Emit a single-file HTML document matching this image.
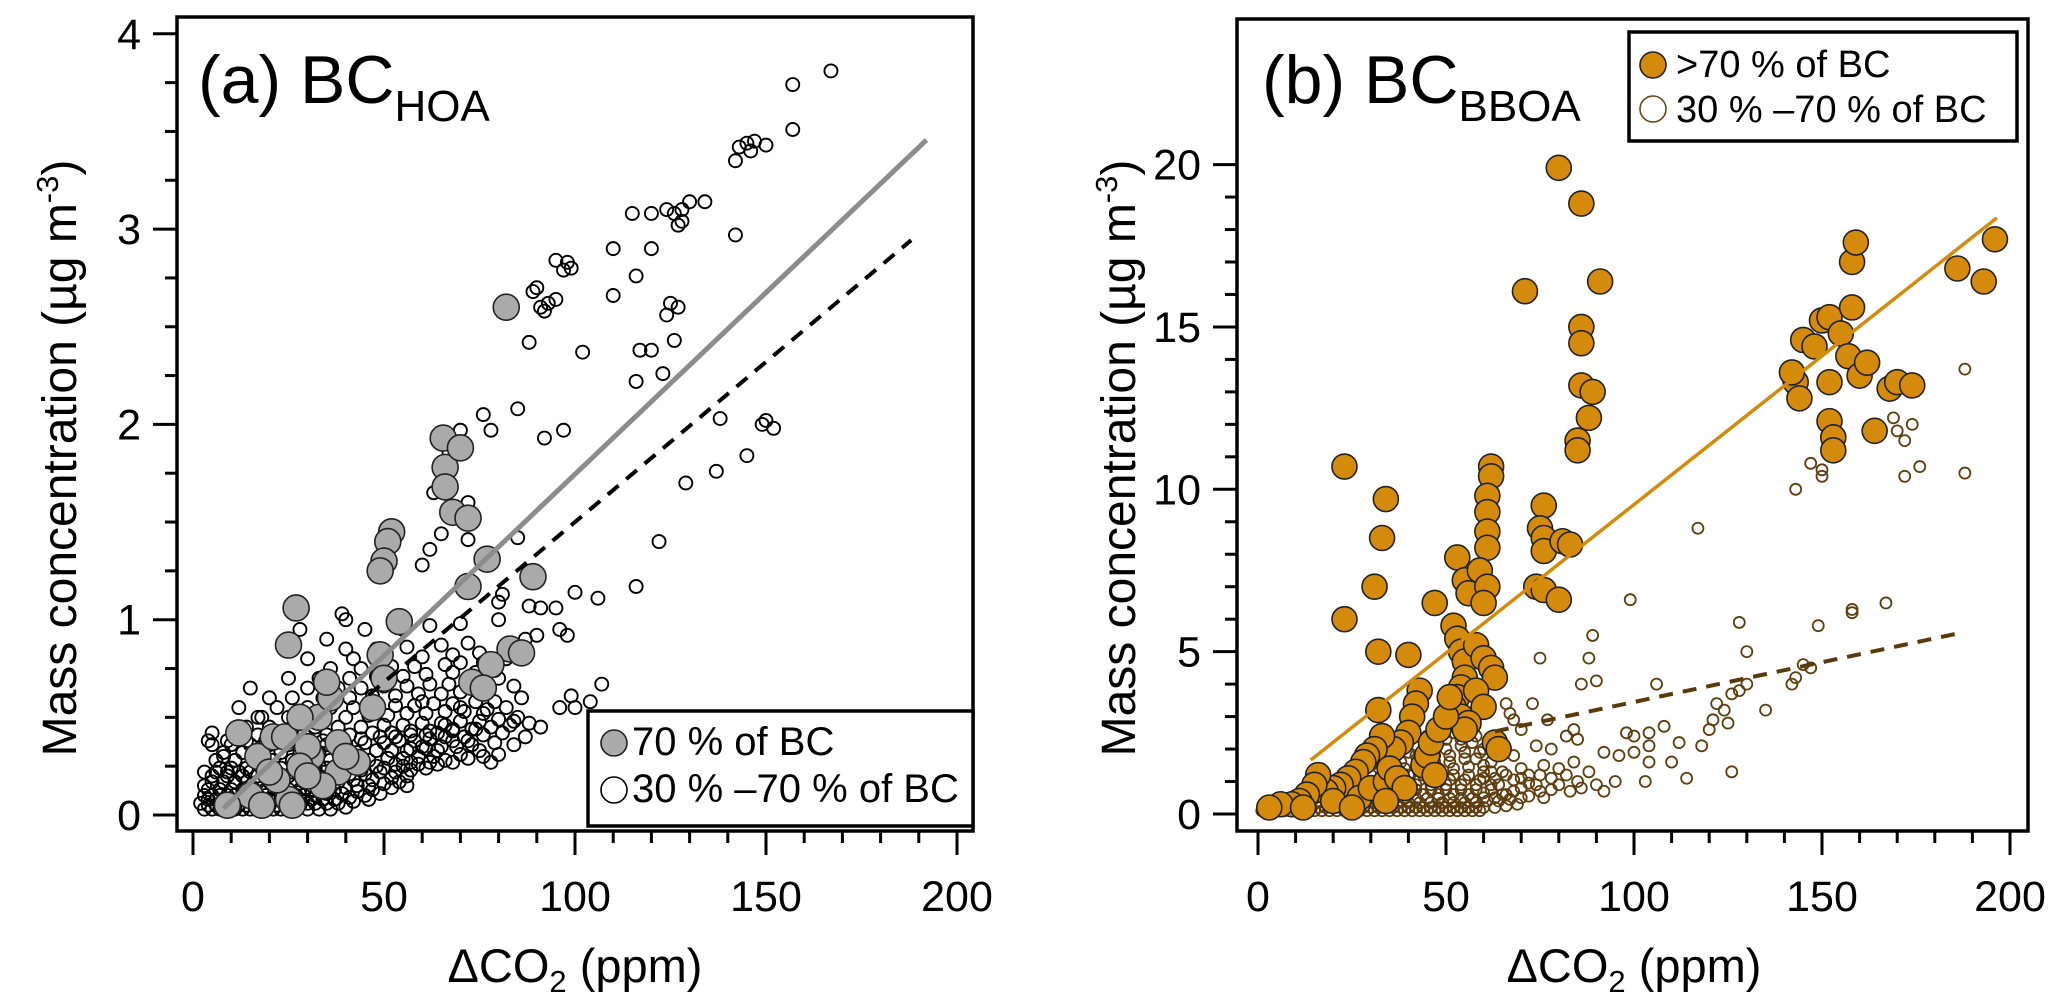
<!DOCTYPE html>
<html><head><meta charset="utf-8">
<style>
html,body{margin:0;padding:0;background:#fff;}
svg{display:block;font-family:"Liberation Sans",Arial,sans-serif;}
</style></head>
<body>
<svg id="chart" width="2067" height="1008" viewBox="0 0 2067 1008" xmlns="http://www.w3.org/2000/svg">
<rect x="0" y="0" width="2067" height="1008" fill="#fff"/>
<g id="panelA"></g>
<g id="panelB"></g>
</svg>
<script>
// ---------- Panel (a) data ----------
const hoaXTicks = [0, 50, 100, 150, 200];
const hoaYTicks = [0, 1, 2, 3, 4];
const hoaOpen = [
[167,3.81],[157,3.74],[157,3.51],[147,3.45],[145,3.44],[143,3.42],[146,3.40],[150,3.43],[142,3.35],[142,2.97],
[134,3.14],[130,3.14],[128,3.10],[126,3.08],[127,3.02],[128,3.04],[124,3.10],[120,3.08],[115,3.08],[110,2.90],
[120,2.90],[116,2.76],[98,2.83],[97,2.79],[99,2.80],[95,2.84],[90,2.70],[89,2.68],[91,2.60],[92,2.58],[93,2.62],
[95,2.64],[88,2.42],[110,2.66],[102,2.37],[120,2.38],[117,2.38],[125,2.62],[124,2.56],[126,2.43],[127,2.60],
[116,2.22],[123,2.26],[97,1.97],[92,1.93],[85,2.08],[150,2.02],[152,1.98],[149,2.00],[138,2.03],[137,1.76],
[145,1.84],[129,1.70],[122,1.40],[116,1.17],[106,1.11],[100,1.14],[78,1.97],[76,2.05],[70,1.97],[66,1.78],
[67,1.86],[72,1.60],[72,1.41],[63,1.65],[62,1.36],[65,1.44],[60,1.28],[85,1.42],[81,1.13],[80,1.09],[88,1.07],
[91,1.06],[95,1.06],[96,0.95],[98,0.92],[96,0.55],[100,0.55],[104,0.58],[107,0.67],[99,0.61],[91,0.45],
[88,0.47],[84,0.48],[80,0.31],[84,0.36],[87,0.40],[76,0.30],[78,0.27],
[3,0.03],[5,0.03],[7,0.03],[9,0.03],[11,0.03],[13,0.03],[15,0.03],[17,0.03],[19,0.03],[21,0.03],[23,0.03],[25,0.03],[27,0.03],[30,0.03],[33,0.03],[36,0.03],[40,0.04],
[4,0.08],[6,0.08],[8,0.08],[10,0.08],[12,0.08],[14,0.08],[16,0.08],[18,0.08],[20,0.08],[22,0.08],[24,0.08],[26,0.08],[28,0.08],[31,0.08],[34,0.08],[37,0.08],[41,0.09],[45,0.10],[49,0.11],
[4,0.13],[7,0.13],[10,0.13],[13,0.13],[16,0.13],[19,0.13],[22,0.13],[25,0.13],[28,0.13],[31,0.13],[34,0.13],[37,0.13],[40,0.14],[43,0.15],[46,0.15],[50,0.16],[54,0.17],
[5,0.20],[9,0.20],[13,0.20],[17,0.20],[21,0.20],[25,0.20],[29,0.20],[33,0.20],[37,0.20],[41,0.21],[45,0.21],[49,0.22],[53,0.22],[57,0.23],[61,0.24],
[6,0.28],[11,0.28],[16,0.28],[21,0.28],[26,0.28],[31,0.28],[36,0.28],[41,0.28],[46,0.28],[51,0.29],[55,0.29],[59,0.30],[63,0.30],[70,0.31],[75,0.33],
[5,0.36],[10,0.36],[15,0.36],[20,0.36],[25,0.36],[30,0.36],[35,0.36],[40,0.36],[45,0.37],[50,0.37],[54,0.38],[58,0.38],[62,0.39],[66,0.40],[71,0.40],[76,0.41],[81,0.42],
[14,0.45],[20,0.45],[26,0.45],[32,0.45],[38,0.45],[44,0.45],[50,0.46],[55,0.46],[60,0.47],[65,0.47],[70,0.48],[75,0.48],[80,0.49],[85,0.50],
[22,0.55],[30,0.55],[36,0.55],[42,0.55],[48,0.55],[53,0.56],[58,0.56],[63,0.57],[68,0.57],[74,0.58],[79,0.58],[86,0.60],
[30,0.65],[38,0.65],[44,0.65],[50,0.66],[56,0.66],[62,0.67],[67,0.67],[72,0.68],[80,0.70],
[36,0.75],[44,0.75],[52,0.76],[58,0.76],[66,0.77],[70,0.78],[76,0.78],[82,0.80],
[40,0.85],[48,0.85],[56,0.86],[65,0.87],[72,0.88],[87,0.90],[90,0.92],
[45,0.95],[55,0.95],[62,0.97],[70,0.98],[80,1.00],
[5,0.42],[4,0.38],[15,0.65],[12,0.55],[17,0.50],[20,0.60],[25,0.70],[30,0.80],[35,0.90],[40,1.00],[39,1.03],[28,0.95],[8,0.30],[3,0.15],[2,0.06],
[4,0.05],[6,0.05],[8,0.05],[10,0.05],[12,0.05],[14,0.05],[16,0.05],[18,0.05],[20,0.05],[22,0.05],[24,0.05],[26,0.05],[28,0.05],[30,0.06],[32,0.06],[35,0.06],[38,0.06],[42,0.07],[46,0.08],
[5,0.17],[8,0.17],[11,0.17],[14,0.17],[17,0.17],[20,0.17],[23,0.17],[26,0.17],[29,0.17],[32,0.17],[35,0.17],[38,0.17],[42,0.18],[47,0.18],[52,0.19],[56,0.20],
[7,0.24],[10,0.24],[14,0.24],[18,0.24],[23,0.24],[27,0.24],[32,0.24],[35,0.24],[39,0.24],[43,0.25],[48,0.25],[53,0.26],[57,0.27],[62,0.27],[66,0.28],[72,0.29],
[8,0.32],[13,0.32],[18,0.32],[23,0.32],[28,0.32],[33,0.32],[38,0.32],[43,0.32],[48,0.33],[52,0.33],[57,0.34],[61,0.34],[65,0.35],[69,0.35],[73,0.36],[79,0.37],
[12,0.41],[17,0.41],[23,0.41],[29,0.41],[35,0.41],[41,0.41],[47,0.42],[52,0.42],[57,0.43],[62,0.43],[68,0.44],[73,0.44],[78,0.45],[83,0.46],
[18,0.50],[25,0.50],[33,0.50],[40,0.50],[46,0.51],[51,0.51],[56,0.52],[61,0.52],[66,0.53],[71,0.53],[77,0.54],[82,0.55],
[26,0.60],[34,0.60],[41,0.60],[47,0.61],[53,0.61],[59,0.62],[65,0.62],[70,0.63],[77,0.64],[84,0.66],
[33,0.70],[41,0.70],[48,0.71],[55,0.71],[61,0.72],[68,0.73],[74,0.73],[79,0.74],
[42,0.80],[50,0.80],[60,0.81],[68,0.82],[75,0.83],[85,0.85],
[3,0.10],[5,0.10],[7,0.10],[9,0.10],[11,0.10],[13,0.10],[15,0.10],[17,0.10],[19,0.10],[21,0.10],[23,0.10],[25,0.10],[27,0.10],[29,0.10],[32,0.10],[35,0.11],[39,0.11],[43,0.12],[47,0.13],[52,0.14],[56,0.15],
[3,0.22],[6,0.22],[9,0.22],[12,0.22],[15,0.22],[19,0.22],[22,0.22],[26,0.22],[30,0.22],[34,0.22],[38,0.22],[44,0.23],[50,0.24],[55,0.25],[59,0.26],[64,0.26],[68,0.27],
[9,0.38],[14,0.38],[19,0.38],[24,0.38],[29,0.38],[34,0.38],[39,0.39],[44,0.39],[49,0.40],[53,0.40],[57,0.41],[61,0.41],[64,0.42],[68,0.43],[74,0.44],
[60,0.35],[64,0.33],[68,0.38],[72,0.38],[56,0.33],[66,0.46],[70,0.55],[76,0.52],[60,0.58]
];
const hoaMajor = [
[65.5,1.93],[66,1.78],[66,1.68],[70,1.88],[68,1.55],[72,1.52],[52,1.45],[51,1.40],[50,1.30],[49,1.25],[77,1.31],
[72,1.17],[89,1.22],[27,1.06],[54,0.99],[25,0.87],[49,0.82],[83,0.85],[86,0.83],[78,0.77],[73,0.68],[76,0.65],
[12,0.42],[17,0.30],[21,0.40],[24,0.40],[33,0.50],[28,0.50],[36,0.60],[35,0.68],[31,0.30],[30,0.35],[38,0.37],
[38,0.22],[43,0.27],[34,0.15],[25,0.08],[22,0.18],[20,0.22],[28,0.25],[40,0.30],[50,0.70],[47,0.55],[82,2.60],
[26,0.05],[15,0.10],[18,0.05],[9,0.05],[30,0.20]
];
const hoaFitSolid = [8, 192, 0.0186, -0.115];   // xStart, xEnd, slope, intercept
const hoaFitDashed = [46, 188, 0.0164, -0.14];

// ---------- Panel (b) data ----------
const bboaXTicks = [0, 50, 100, 150, 200];
const bboaYTicks = [0, 5, 10, 15, 20];
const bboaOpen = [
[188,13.7],[188,10.5],[169,12.2],[170,11.8],[172,11.5],[174,12.0],[172,10.4],[176,10.7],[143,10.0],[147,10.8],
[150,10.6],[150,10.4],[158,6.3],[158,6.2],[167,6.5],[117,8.8],[99,6.6],[89,5.5],[88,4.8],[75,4.8],[90,4.1],
[86,4.0],[106,4.0],[149,5.8],[145,4.6],[147,4.5],[143,4.2],[142,4.0],[128,5.9],[130,5.0],[130,4.0],[128,3.8],
[126,3.7],[122,3.4],[124,3.2],[121,2.9],[120,2.6],[118,2.1],[112,2.2],[108,2.7],[104,2.1],[100,1.9],[96,1.8],
[92,1.9],[85,2.3],[84,2.6],[82,2.4],[78,2.0],[74,2.1],[70,2.6],[68,2.9],[67,3.1],[66,3.4],[98,2.5],[100,2.4],
[104,2.5],[110,1.6],[114,1.1],[103,1.0],[126,1.3],[125,2.8],[135,3.2],[104,1.6],[95,1.0],[90,0.9],[85,1.0],
[80,0.9],[75,0.7],[70,0.8],[66,0.6],[64,0.9],[72,1.2],[76,1.5],[60,1.1],[62,1.6],[68,1.8],[73,3.4],[77,2.9],[80,1.4],[88,1.3],
[1,0.1],[3,0.1],[5,0.1],[7,0.1],[9,0.1],[11,0.1],[13,0.1],[15,0.1],[17,0.1],[19,0.1],[21,0.1],[23,0.1],[25,0.1],[27,0.1],[29,0.1],[31,0.1],[33,0.1],[35,0.1],[37,0.1],[39,0.1],[41,0.1],[43,0.1],[45,0.1],[47,0.1],[49,0.1],[51,0.1],[53,0.1],[55,0.1],[57,0.1],[59,0.1],
[4,0.35],[7,0.35],[10,0.35],[13,0.35],[16,0.35],[19,0.35],[22,0.35],[25,0.35],[28,0.35],[31,0.35],[34,0.35],[37,0.35],[40,0.35],[43,0.35],[46,0.35],[49,0.35],[52,0.35],[55,0.35],[58,0.35],[61,0.4],[64,0.4],
[12,0.6],[16,0.6],[20,0.6],[24,0.6],[28,0.6],[32,0.6],[36,0.6],[40,0.6],[44,0.6],[48,0.6],[52,0.6],[56,0.6],[60,0.65],[65,0.6],[70,0.5],
[22,0.9],[27,0.9],[32,0.9],[37,0.9],[42,0.9],[46,0.9],[50,0.9],[54,0.9],[58,0.9],[62,0.9],
[30,1.2],[35,1.2],[40,1.2],[44,1.2],[48,1.2],[52,1.2],[56,1.2],[60,1.3],
[38,1.6],[43,1.6],[47,1.6],[51,1.6],[55,1.7],[58,1.7],
[45,2.0],[50,2.0],[54,2.1],[57,2.2],[52,2.5],[56,2.6],
[2,0.2],[4,0.2],[6,0.2],[8,0.2],[10,0.2],[12,0.2],[14,0.2],[16,0.2],[18,0.2],[20,0.2],[22,0.2],[24,0.2],[26,0.2],[28,0.2],[30,0.2],[32,0.2],[34,0.2],[36,0.2],[38,0.2],[40,0.2],[42,0.2],[44,0.2],[46,0.2],[48,0.2],[50,0.2],[52,0.2],[54,0.2],[56,0.2],[58,0.2],[60,0.2],[63,0.2],[66,0.25],[69,0.3],
[9,0.48],[12,0.48],[15,0.48],[18,0.48],[21,0.48],[24,0.48],[27,0.48],[30,0.48],[33,0.48],[36,0.48],[39,0.48],[42,0.48],[45,0.48],[48,0.48],[51,0.48],[54,0.48],[57,0.48],[60,0.5],[63,0.5],[67,0.45],[72,0.55],[76,0.5],
[18,0.75],[22,0.75],[26,0.75],[30,0.75],[34,0.75],[38,0.75],[42,0.75],[46,0.75],[50,0.75],[54,0.75],[58,0.75],[62,0.75],[68,0.7],[74,0.9],[78,0.75],[83,0.7],
[28,1.05],[33,1.05],[38,1.05],[43,1.05],[47,1.05],[51,1.05],[55,1.05],[59,1.05],[63,1.1],[68,1.05],[72,0.95],[86,0.8],[92,0.7],
[34,1.4],[39,1.4],[44,1.4],[48,1.4],[52,1.4],[56,1.45],[60,1.5],[65,1.3],[70,1.4],
[42,1.8],[47,1.8],[51,1.8],[55,1.9],[59,1.9],[50,2.3],[54,2.3],[58,2.4],
[25,1.3],[30,1.5],[35,1.7],[40,1.9],[45,2.4],[48,2.8],[53,3.0],[57,2.9],[60,2.0],[62,1.3],[64,1.9],[66,1.2],[70,1.1],[75,1.2],[78,1.1],[82,1.2],[84,1.6]
];
const bboaMajor = [
[80,19.9],[86,18.8],[71,16.1],[91,16.4],[86,15.0],[86,14.5],[86,13.2],[89,13.0],[88,12.2],[85,11.5],[85,11.2],
[23,10.7],[62,10.7],[62,10.4],[61,9.8],[61,9.3],[61,8.7],[61,8.2],[34,9.7],[33,8.5],[31,7.0],[53,7.9],[55,7.2],
[56,6.8],[59,7.5],[61,7.0],[60,6.5],[76,9.5],[75,8.8],[76,8.5],[76,8.1],[81,8.4],[83,8.3],[74,7.0],[76,6.9],
[80,6.6],[23,6.0],[32,5.0],[40,4.9],[47,6.5],[52,5.8],[53,5.4],[54,5.0],[55,4.7],[55,4.2],[54,3.9],[53,3.6],
[52,3.3],[54,3.0],[58,5.2],[60,4.8],[62,4.5],[63,4.2],[58,3.8],[60,3.3],[56,2.8],[55,2.6],[63,2.2],[64,2.0],
[43,3.8],[42,3.4],[41,3.0],[40,2.5],[38,2.2],[36,2.0],[33,2.4],[32,3.2],[31,2.0],[29,1.8],[28,1.6],[26,1.3],
[24,1.1],[22,0.9],[20,0.8],[18,0.7],[16,1.2],[15,0.9],[13,0.6],[11,0.4],[9,0.3],[6,0.3],[3,0.2],[27,0.5],
[30,0.8],[34,1.0],[35,1.4],[37,1.1],[39,0.8],[44,1.5],[45,1.8],[46,2.2],[48,2.6],[50,3.0],[51,3.6],[47,1.2],
[34,0.4],[20,0.4],[25,0.2],[12,0.2],
[145,14.6],[148,14.4],[150,15.2],[152,15.3],[155,14.8],[158,15.6],[158,17.0],[159,17.6],[143,13.3],[144,12.8],
[142,13.6],[152,13.3],[152,12.1],[153,11.6],[157,14.1],[160,13.5],[162,13.9],[164,11.8],[168,13.1],[170,13.3],
[174,13.2],[186,16.8],[193,16.4],[196,17.7],[153,11.2]
];
const bboaFitSolid = [14, 196.5, 0.0915, 0.38];
const bboaFitDashed = [63, 187, 0.0245, 1.0];

const NS = "http://www.w3.org/2000/svg";
function mk(tag, attrs, parent) {
  const e = document.createElementNS(NS, tag);
  for (const k in attrs) e.setAttribute(k, attrs[k]);
  parent.appendChild(e);
  return e;
}

function drawPanel(g, cfg) {
  const X = v => cfg.x0 + v * cfg.xs;
  const Y = v => cfg.y0 - v * cfg.ys;
  const og = mk('g', {}, g);
  
  
  cfg.open.forEach(p => {
    const c = mk('circle', {cx: X(p[0]), cy: Y(p[1]), r: cfg.rOpen, fill: 'none', stroke: cfg.openStroke, 'stroke-width': cfg.openW}, og);
    
    
  });
  const mg = mk('g', {}, g);
  
  
  cfg.major.forEach(p => {
    const c = mk('circle', {cx: X(p[0]), cy: Y(p[1]), r: cfg.rMajor, fill: cfg.majorFill, stroke: '#222', 'stroke-width': 1.6}, mg);
    
    
  });
  const s = cfg.fitSolid;
  const l1 = mk('line', {x1: X(s[0]), y1: Y(s[0]*s[2]+s[3]), x2: X(s[1]), y2: Y(s[1]*s[2]+s[3]), stroke: cfg.solidColor, 'stroke-width': cfg.solidW}, g);
  
  
  const d = cfg.fitDashed;
  const l2 = mk('line', {x1: X(d[0]), y1: Y(d[0]*d[2]+d[3]), x2: X(d[1]), y2: Y(d[1]*d[2]+d[3]), stroke: cfg.dashColor, 'stroke-width': 4, 'stroke-dasharray': '14 10'}, g);
  
  
  const fr = mk('rect', {x: cfg.bx1, y: cfg.by1, width: cfg.bx2-cfg.bx1, height: cfg.by2-cfg.by1, fill: 'none', stroke: '#000', 'stroke-width': 3.5}, g);
  
  
  const yMax = cfg.yTicks[cfg.yTicks.length-1];
  for (let v = 0; v <= yMax + 1e-9; v += cfg.yMinor) {
    const isMaj = cfg.yTicks.some(t => Math.abs(t - v) < 1e-6);
    mk('line', {x1: cfg.bx1 - (isMaj ? 24 : 12), x2: cfg.bx1, y1: Y(v), y2: Y(v), stroke: '#000', 'stroke-width': 3}, g);
  }
  cfg.yTicks.forEach(t => {
    const tx = mk('text', {x: cfg.bx1 - 36, y: Y(t) + 15, 'text-anchor': 'end', 'font-size': 43}, g);
    tx.textContent = t;
    
    
  });
  for (let v = 0; v <= 200 + 1e-9; v += 10) {
    const isMaj = v % 50 === 0;
    mk('line', {x1: X(v), x2: X(v), y1: cfg.by2, y2: cfg.by2 + (isMaj ? 24 : 12), stroke: '#000', 'stroke-width': 3}, g);
  }
  cfg.xTicks.forEach(t => {
    const tx = mk('text', {x: X(t), y: 911, 'text-anchor': 'middle', 'font-size': 43}, g);
    tx.textContent = t;
    
    
  });
}

const A = document.getElementById('panelA');
drawPanel(A, {x0:193, xs:3.82, y0:815, ys:195.3, bx1:177, bx2:973, by1:17, by2:831,
  open: hoaOpen, major: hoaMajor, rOpen: 6.5, openW: 1.9, rMajor: 13, openStroke: '#000', majorFill: '#aaaaaa',
  fitSolid: hoaFitSolid, fitDashed: hoaFitDashed, solidColor: '#8c8c8c', solidW: 5, dashColor: '#000',
  xTicks: hoaXTicks, yTicks: hoaYTicks, yMinor: 0.25});
const B = document.getElementById('panelB');
drawPanel(B, {x0:1258, xs:3.76, y0:814, ys:32.47, bx1:1237, bx2:2028, by1:19, by2:831,
  open: bboaOpen, major: bboaMajor, rOpen: 5.5, openW: 1.8, rMajor: 12.5, openStroke: '#5e3e0e', majorFill: '#d48b0b',
  fitSolid: bboaFitSolid, fitDashed: bboaFitDashed, solidColor: '#d48b0b', solidW: 3.5, dashColor: '#5a3a0a',
  xTicks: bboaXTicks, yTicks: bboaYTicks, yMinor: 1});
</script>
<svg style="position:absolute;left:0;top:0" width="2067" height="1008" viewBox="0 0 2067 1008" xmlns="http://www.w3.org/2000/svg" font-family="Liberation Sans, Arial, sans-serif">
  <text x="198" y="103" font-size="68">(a) BC<tspan font-size="44" dy="18">HOA</tspan></text>
  <text x="1262" y="103" font-size="68">(b) BC<tspan font-size="44" dy="18">BBOA</tspan></text>
  <g>
    <rect x="588" y="711" width="385" height="115" fill="#fff" stroke="#000" stroke-width="3.5"/>
    <circle cx="614" cy="743" r="13" fill="#aaaaaa" stroke="#222" stroke-width="1.6"/>
    <text x="632" y="755" font-size="40">70 % of BC</text>
    <circle cx="614" cy="790" r="13" fill="#fff" stroke="#000" stroke-width="1.6"/>
    <text x="632" y="802" font-size="40">30 % –70 % of BC</text>
  </g>
  <g>
    <rect x="1629" y="32" width="388" height="109" fill="#fff" stroke="#000" stroke-width="3.5"/>
    <circle cx="1653" cy="65" r="13" fill="#d48b0b" stroke="#222" stroke-width="1.6"/>
    <text x="1676" y="77" font-size="38">&gt;70 % of BC</text>
    <circle cx="1653" cy="109" r="13" fill="#fff" stroke="#6b4612" stroke-width="1.6"/>
    <text x="1676" y="122" font-size="38">30 % –70 % of BC</text>
  </g>
  <text transform="translate(76,458) rotate(-90)" text-anchor="middle" font-size="48">Mass concentration (µg m<tspan font-size="31" dy="-18">-3</tspan><tspan dy="18">)</tspan></text>
  <text transform="translate(1135,458) rotate(-90)" text-anchor="middle" font-size="48">Mass concentration (µg m<tspan font-size="31" dy="-18">-3</tspan><tspan dy="18">)</tspan></text>
  <text x="575" y="982" text-anchor="middle" font-size="47">ΔCO<tspan font-size="31" dy="10">2</tspan><tspan dy="-10"> (ppm)</tspan></text>
  <text x="1634" y="982" text-anchor="middle" font-size="47">ΔCO<tspan font-size="31" dy="10">2</tspan><tspan dy="-10"> (ppm)</tspan></text>
</svg>
</body></html>
